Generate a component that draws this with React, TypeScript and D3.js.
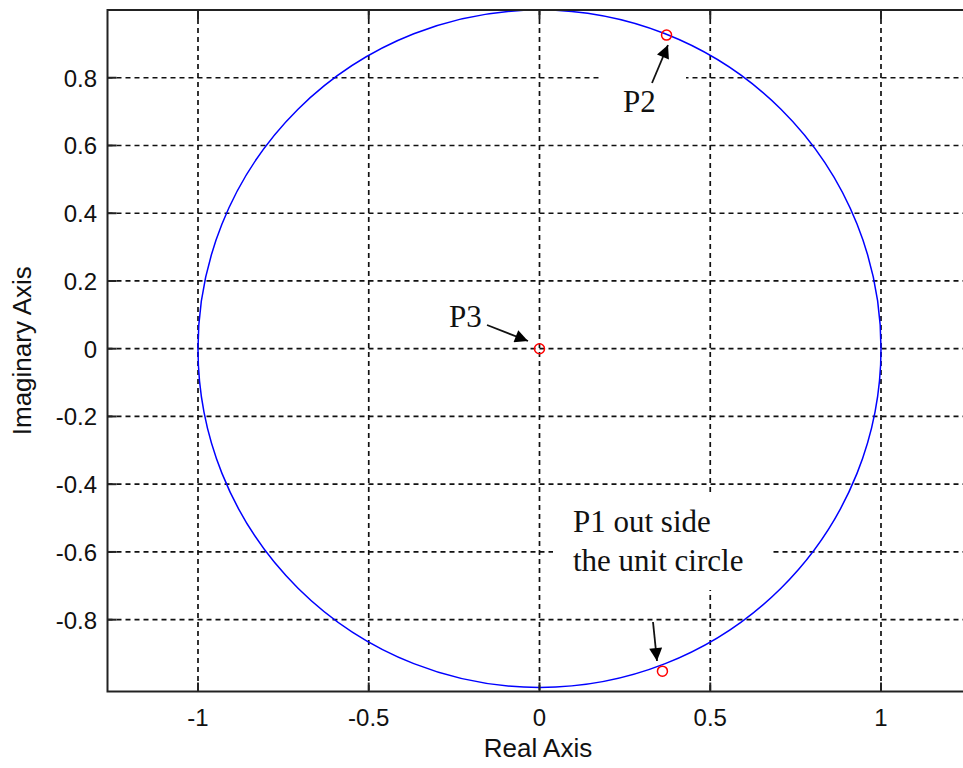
import React from "react";
import * as d3 from "d3";

const xTicks = [-1, -0.5, 0, 0.5, 1];
const xTickLabels = ["-1", "-0.5", "0", "0.5", "1"];
const yTicks = [0.8, 0.6, 0.4, 0.2, 0, -0.2, -0.4, -0.6, -0.8];
const yTickLabels = ["0.8", "0.6", "0.4", "0.2", "0", "-0.2", "-0.4", "-0.6", "-0.8"];
const unitRadius = [1];
const poleNames = ["P1", "P2", "P3"];
const poleRe = [0.36, 0.372, 0];
const poleIm = [-0.952, 0.926, 0];

const W = 963;
const H = 768;
const left = 107.5;
const top = 10;
const bottom = 691.5;

export default function App() {
  const x = d3.scaleLinear().domain([-1.265, 1.27]).range([left, left + 2.535 * 341.5]);
  const y = d3.scaleLinear().domain([-1.012, 1.0]).range([bottom, top]);
  const right = x(1.27);
  const r = unitRadius[0];
  const grid = "#111";
  const sans = "Liberation Sans, Arial, sans-serif";
  const serif = "Liberation Serif, Times New Roman, serif";
  const fs = 24;
  const poles = poleNames.map((n, i) => ({ n, re: poleRe[i], im: poleIm[i] }));

  return (
    <div style={{ position: "absolute", left: 0, top: 0 }}>
      <svg width={W} height={H} style={{ display: "block", background: "#fff" }}>
        <defs>
          <marker id="ah" viewBox="0 0 10 10" refX="10" refY="5" markerWidth="17" markerHeight="13" markerUnits="userSpaceOnUse" orient="auto">
            <path d="M0,0 L10,5 L0,10 z" fill="#000" />
          </marker>
        </defs>
        <rect x={0} y={0} width={W} height={H} fill="#fff" />
        {/* grid */}
        {xTicks.map((t) => (
          <line key={"gx" + t} x1={x(t)} x2={x(t)} y1={top} y2={bottom} stroke={grid} strokeWidth={1.7} strokeDasharray="5,4" />
        ))}
        {yTicks.map((t) => (
          <line key={"gy" + t} x1={left} x2={right} y1={y(t)} y2={y(t)} stroke={grid} strokeWidth={1.7} strokeDasharray="5,4" />
        ))}
        {/* unit circle */}
        <ellipse cx={x(0)} cy={y(0)} rx={x(r) - x(0)} ry={y(0) - y(r)} fill="none" stroke="#0000ff" strokeWidth={1.5} />
        {/* white label boxes */}
        <rect x={602} y={68} width={84} height={54} fill="#fff" />
        <rect x={553} y={492} width={219} height={98} fill="#fff" />
        {/* axes box */}
        <rect x={left} y={top} width={right - left} height={bottom - top} fill="none" stroke="#222" strokeWidth={2} />
        {/* ticks */}
        {xTicks.map((t) => (
          <g key={"tx" + t}>
            <line x1={x(t)} x2={x(t)} y1={bottom} y2={bottom - 9} stroke="#222" strokeWidth={2} />
            <line x1={x(t)} x2={x(t)} y1={top} y2={top + 9} stroke="#222" strokeWidth={2} />
          </g>
        ))}
        {yTicks.map((t) => (
          <line key={"ty" + t} x1={left} x2={left + 9} y1={y(t)} y2={y(t)} stroke="#222" strokeWidth={2} />
        ))}
        {/* tick labels */}
        {xTicks.map((t, i) => (
          <text key={"lx" + t} x={x(t)} y={726} textAnchor="middle" fontFamily={sans} fontSize={fs} fill="#111">
            {xTickLabels[i]}
          </text>
        ))}
        {yTicks.map((t, i) => (
          <text key={"ly" + t} x={97} y={y(t) + 9} textAnchor="end" fontFamily={sans} fontSize={fs} fill="#111">
            {yTickLabels[i]}
          </text>
        ))}
        <text x={538} y={757} textAnchor="middle" fontFamily={sans} fontSize={26} fill="#111">Real Axis</text>
        <text transform={`translate(31,${y(0) + 2}) rotate(-90)`} textAnchor="middle" fontFamily={sans} fontSize={26} fill="#111">Imaginary Axis</text>
        {/* annotations */}
        <text x={623} y={112} fontFamily={serif} fontSize={31} fill="#111">P2</text>
        <text x={449} y={327} fontFamily={serif} fontSize={31} fill="#111">P3</text>
        <text x={573} y={532} fontFamily={serif} fontSize={31} fill="#111">P1 out side</text>
        <text x={573} y={571} fontFamily={serif} fontSize={31} fill="#111">the unit circle</text>
        <line x1={652} y1={83} x2={668} y2={45} stroke="#111" strokeWidth={1.8} markerEnd="url(#ah)" />
        <line x1={487} y1={325} x2={528} y2={341} stroke="#111" strokeWidth={1.8} markerEnd="url(#ah)" />
        <line x1={653} y1={622} x2={657} y2={661} stroke="#111" strokeWidth={1.8} markerEnd="url(#ah)" />
        {/* poles */}
        {poles.map((p) => (
          <circle key={p.n} cx={x(p.re)} cy={y(p.im)} r={5} fill="none" stroke="#ff0000" strokeWidth={1.5} />
        ))}
      </svg>
    </div>
  );
}
